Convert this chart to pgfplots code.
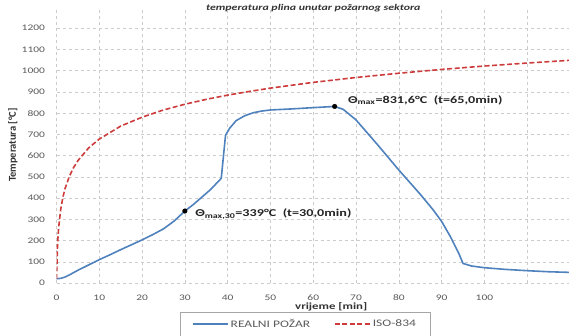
\documentclass[border=0pt]{standalone}
\usepackage{pgfplots}
\pgfplotsset{compat=1.18}
\usepackage{fontspec}
\setmainfont{Carlito}[FakeStretch=1.35]
\newfontfamily\plainfont{Carlito}
\definecolor{bl}{RGB}{79,129,189}
\definecolor{rd}{RGB}{205,60,60}
\definecolor{txt}{RGB}{90,90,90}
\begin{document}
\begin{tikzpicture}
\begin{axis}[
  at={(56.5pt,52pt)}, anchor=south west,
  scale only axis, width=513.5pt, height=276pt,
  xmin=0, xmax=120, ymin=0, ymax=1300,
  xtick={0,10,...,120},
  xticklabels={0,10,20,30,40,50,60,70,80,90,100,,},
  ytick={0,100,...,1200},
  grid=major,
  major grid style={gray!40, dashed, line width=0.5pt},
  axis line style={draw=none},
  major tick length=0pt,
  /pgf/number format/1000 sep={},
  /pgf/number format/assume math mode=true,
  ticklabel style={font=\fontsize{8.5}{9}\selectfont, text=txt},
  xticklabel style={yshift=-8pt},
  yticklabel style={xshift=-8pt},
  title={temperatura plina unutar požarnog sektora},
  title style={at={(axis description cs:0.5,0.975)}, anchor=center, font=\bfseries\itshape\fontsize{8.8}{10}\selectfont, text=black!80},
  xlabel={vrijeme [min]},
  xlabel style={at={(axis description cs:0.535,-0.085)}, anchor=center, font=\bfseries\fontsize{9.5}{11}\selectfont, text=black!80},
  ylabel={Temperatura [°C]},
  ylabel style={at={(axis description cs:-0.085,0.5)}, anchor=center, font=\plainfont\bfseries\fontsize{10.5}{12}\selectfont, text=black!80},
  legend columns=2,
  legend style={at={(axis description cs:0.484,-0.105)}, anchor=north, draw=gray!70, font=\fontsize{10}{12}\selectfont, text=txt,
    /tikz/every even column/.append style={column sep=22pt}, inner xsep=12pt, inner ysep=5pt},
  legend image code/.code={\draw[#1] (0pt,0pt) -- (35pt,0pt);},
]
\addplot[bl, line width=1.6pt] coordinates {
(0,20) (1,22) (2,28) (3,38) (5,60) (7.5,85) (10,110) (12.5,133) (15,157) (17.5,180) (20,203) (22.5,228) (25,255) (27.5,292) (30,339) (32,370) (34,405) (36,440) (38.5,493) (39.5,696) (40.5,730) (42,765) (44,788) (46,802) (48,810) (50,815) (55,820) (60,826) (65,831.6) (67,818) (70,768) (75,652) (80,532) (85,418) (88,345) (90,290) (92,220) (94,140) (95,92) (97,80) (100,72) (105,64) (110,58) (115,53) (120,50)
};
\addlegendentry{REALNI POŽAR}
\addplot[rd, line width=1.6pt, dash pattern=on 5pt off 2.5pt] coordinates {
(0,20) (0.25,185) (0.5,261) (1,349) (1.5,404) (2,445) (3,502) (4,544) (5,576) (7.5,636) (10,678) (15,739) (20,781) (25,815) (30,842) (35,865) (40,885) (45,902) (50,918) (60,945) (70,968) (80,988) (90,1006) (100,1022) (110,1036) (120,1049)
};
\addlegendentry{ISO-834}
\addplot[only marks, mark=*, mark size=2.3pt, black, forget plot] coordinates {(30,339) (65,831.6)};
\node[anchor=west, font=\bfseries\fontsize{10.5}{12}\selectfont, text=black!85] at (axis cs:31.6,325) {Θ\textsubscript{max,30}=339°C\ \ (t=30,0min)};
\node[anchor=west, font=\bfseries\fontsize{10.5}{12}\selectfont, text=black!85] at (axis cs:67.3,862) {Θ\textsubscript{max}=831,6°C\ \ (t=65,0min)};
\end{axis}
\pgfresetboundingbox
\path[use as bounding box] (0,0) rectangle (569pt,335pt);
\end{tikzpicture}
\end{document}
